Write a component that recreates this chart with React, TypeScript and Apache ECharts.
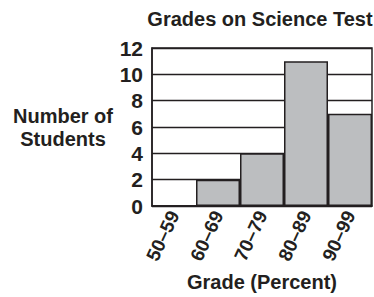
import React, { useEffect, useRef } from "react";
import * as echarts from "echarts";

const categories = ["50–59", "60–69", "70–79", "80–89", "90–99"];
const counts = [0, 2, 4, 11, 7];
const yTicks = { min: 0, max: 12, interval: 2 };
const titleText = "Grades on Science Test";
const xName = "Grade (Percent)";
const yName = "Number of\nStudents";

const FONT = "Liberation Sans, Arial, sans-serif";
const INK = "#231f20";

export default function App() {
  const ref = useRef<HTMLDivElement>(null);
  useEffect(() => {
    if (!ref.current) return;
    const chart = echarts.init(ref.current, null, { renderer: "svg" });
    chart.setOption({
      animation: false,
      backgroundColor: "#ffffff",
      title: {
        text: titleText,
        left: 260,
        top: 9,
        textAlign: "center",
        padding: 0,
        textStyle: {
          fontFamily: FONT,
          fontWeight: "bold",
          fontSize: 20,
          color: INK,
        },
      },
      grid: {
        left: 152,
        right: 2,
        top: 48,
        bottom: 90,
        show: true,
        borderColor: INK,
        borderWidth: 1.5,
        backgroundColor: "transparent",
      },
      graphic: [
        {
          type: "text",
          x: 63,
          y: 127,
          style: {
            text: yName,
            align: "center",
            verticalAlign: "middle",
            fontFamily: FONT,
            fontWeight: "bold",
            fontSize: 20,
            lineHeight: 23,
            fill: INK,
          },
        },
      ],
      xAxis: {
        type: "category",
        data: categories,
        name: xName,
        nameLocation: "middle",
        nameGap: 66,
        nameTextStyle: {
          fontFamily: FONT,
          fontWeight: "bold",
          fontSize: 20,
          color: INK,
        },
        axisLine: { show: true, lineStyle: { color: INK, width: 1.5 } },
        axisTick: { show: false },
        axisLabel: {
          rotate: 65,
          margin: 6,
          fontFamily: FONT,
          fontWeight: "bold",
          fontSize: 19,
          color: INK,
        },
      },
      yAxis: {
        type: "value",
        min: yTicks.min,
        max: yTicks.max,
        interval: yTicks.interval,
        axisLine: { show: true, lineStyle: { color: INK, width: 1.5 } },
        axisTick: { show: false },
        splitLine: { show: true, lineStyle: { color: INK, width: 1.3 } },
        axisLabel: {
          margin: 9,
          fontFamily: FONT,
          fontWeight: "bold",
          fontSize: 21,
          color: INK,
        },
      },
      series: [
        {
          type: "bar",
          data: counts,
          barCategoryGap: "0%",
          itemStyle: {
            color: "#bcbec0",
            borderColor: INK,
            borderWidth: 1.5,
          },
        },
      ],
    });
    return () => chart.dispose();
  }, []);
  return <div ref={ref} style={{ width: 374, height: 297, position: "absolute", left: 0, top: 0 }} />;
}
